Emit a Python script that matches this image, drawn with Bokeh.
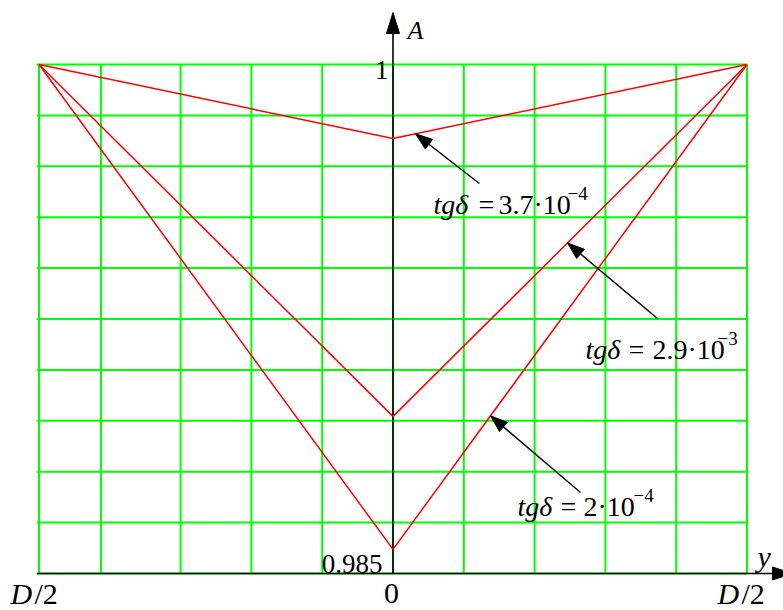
from bokeh.plotting import figure
from bokeh.models import Range1d
from bokeh.core.properties import value
from bokeh.embed import file_html
from bokeh.resources import INLINE
import numpy as np

# Position across the layer, in units of D/2
y_pos = [-1.0, 0.0, 1.0]

# Amplitude A(y) for three loss tangents
A_tg_37e4 = [1.0, 0.99782, 1.0]
A_tg_29e3 = [1.0, 0.98963, 1.0]
A_tg_2e4 = [1.0, 0.98571, 1.0]

curve_mantissas = ["3.7·10", "2.9·10", "2·10"]
curve_exponents = ["−4", "−3", "−4"]

# Tick labels
x_tick_pos = [-1.0, 0.0, 1.0]
x_tick_labels = ["D/2", "0", "D/2"]
A_tick_vals = [0.985, 1.0]
A_tick_labels = ["0.985", "1"]

# Grid lines
grid_x = [-1.0, -0.825, -0.6, -0.4, -0.2, 0.0, 0.2, 0.4, 0.6, 0.8, 1.0]
grid_A = [0.985, 0.9865, 0.988, 0.9895, 0.991, 0.9925, 0.994, 0.9955, 0.997, 0.9985, 1.0]

W, H = 783, 610
X0, X1 = -1.10876, 1.10311
Y0, Y1 = 0.9839096, 1.0018861
SX = W / (X1 - X0)
SY = H / (Y1 - Y0)

FONT = value("Liberation Serif")

p = figure(width=W, height=H, x_range=Range1d(X0, X1), y_range=Range1d(Y0, Y1),
           output_backend="svg", toolbar_location=None,
           x_axis_location=None, y_axis_location=None, min_border=0)
p.outline_line_color = None
p.grid.visible = False
p.background_fill_color = "white"
p.border_fill_color = "white"

GREEN = "#00ff00"

# grid
p.segment(x0=[-1.006] * len(grid_A), y0=grid_A, x1=[1.0] * len(grid_A), y1=grid_A,
          line_color=GREEN, line_width=2)
p.segment(x0=grid_x, y0=[A_tick_vals[0]] * len(grid_x), x1=grid_x, y1=[A_tick_vals[1]] * len(grid_x),
          line_color=GREEN, line_width=2)


def head(tip, tail, length, width):
    """Filled triangular arrowhead, sized in pixels; returns the base centre."""
    tx, ty = tip[0] * SX, tip[1] * SY
    bx, by = tail[0] * SX, tail[1] * SY
    d = np.hypot(tx - bx, ty - by)
    ux, uy = (tx - bx) / d, (ty - by) / d
    cx, cy = tx - ux * length, ty - uy * length
    nx, ny = -uy, ux
    xs = [tx, cx + nx * width / 2, cx - nx * width / 2]
    ys = [ty, cy + ny * width / 2, cy - ny * width / 2]
    p.patch([v / SX for v in xs], [v / SY for v in ys], fill_color="black", line_color="black",
            line_width=1)
    return cx / SX, cy / SY


def txt(x, y, s, size, italic=False, align="left"):
    """Text on an alphabetic baseline at data (x, y)."""
    y_adj = y + 0.31 * size / SY
    p.text(x=[x], y=[y_adj], text=[s], text_font=FONT,
           text_font_style="italic" if italic else "normal",
           text_font_size=f"{size}px", text_align=align, text_baseline="alphabetic",
           text_color="black")


# axes with arrows
ax_tip = (1.1285, A_tick_vals[0])
base = head(ax_tip, (0.0, A_tick_vals[0]), 20, 13)
p.line([-1.006, base[0]], [A_tick_vals[0], A_tick_vals[0]], line_color="black", line_width=1.6)
ay_tip = (0.0, 1.001532)
base = head(ay_tip, (0.0, A_tick_vals[0]), 21, 13)
p.line([0.0, 0.0], [A_tick_vals[0], base[1]], line_color="black", line_width=1.6)

# curves
for A in (A_tg_37e4, A_tg_29e3, A_tg_2e4):
    p.line(y_pos, A, line_color="red", line_width=1.5)

# pointer arrows: tip on the curve, tail near the label
pointers = [
    (A_tg_37e4, 0.0636, (0.244, 0.996493)),
    (A_tg_29e3, 0.4929, (0.747, 0.992515)),
    (A_tg_2e4, 0.2754, (0.5297, 0.987387)),
]
for A, xt, tail in pointers:
    tip = (xt, float(np.interp(xt, y_pos, A)))
    b = head(tip, tail, 17, 12)
    p.line([tail[0], b[0]], [tail[1], b[1]], line_color="black", line_width=1.4)

# curve labels: starts of "tgδ", "=", mantissa, exponent; baseline
label_pos = [
    (0.1144, 0.2415, 0.2980, 0.4929, 0.99561),
    (0.5438, 0.6653, 0.7331, 0.9167, 0.991336),
    (0.3517, 0.4732, 0.5381, 0.6794, 0.986709),
]
for (xt, xe, xm, xs, yb), man, ex in zip(label_pos, curve_mantissas, curve_exponents):
    txt(xt, yb, "tgδ", 28, italic=True)
    txt(xe, yb, "=", 28)
    txt(xm, yb, man, 28)
    txt(xs, yb + 14 / SY, ex, 19)

# x tick labels along the bottom edge
tick_base = 0.98414
txt(-1.0805, tick_base, "D", 30, italic=True)
txt(-1.0127, tick_base, "/2", 30)
txt(x_tick_pos[1] - 0.004, tick_base, x_tick_labels[1], 30, align="center")
txt(0.9167, tick_base, "D", 30, italic=True)
txt(0.9845, tick_base, "/2", 30)

# A tick labels
txt(-0.0297, A_tick_vals[0] + 0.00003, A_tick_labels[0], 27, align="right")
txt(-0.0127, A_tick_vals[1] - 0.000413, A_tick_labels[1], 27, align="right")

# axis names
txt(0.041, 1.000766, "A", 26, italic=True)
txt(1.0297, 0.985236, "y", 30, italic=True)

open("out.html", "w").write(file_html(p, INLINE))
